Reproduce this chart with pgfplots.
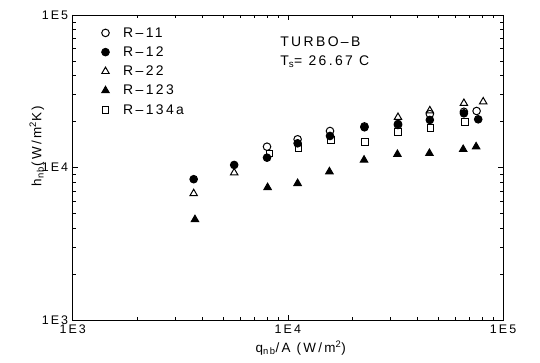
\documentclass[border=0pt]{standalone}
\usepackage{fontspec}
\setmainfont[LetterSpace=17]{Liberation Sans}
\usepackage{pgfplots}
\pgfplotsset{compat=1.18}
\begin{document}
\begin{tikzpicture}
\begin{axis}[
  scale only axis,
  width=430.3bp, height=305bp,
  xmode=log, ymode=log,
  xmin=1000, xmax=100000, ymin=1000, ymax=100000,
  xtick={1000,10000,100000}, xticklabels={1E3,1E4,1E5},
  ytick={1000,10000,100000}, yticklabels={1E3,1E4,1E5},
  tick align=inside, ticks=both,
  xtick pos=both, ytick pos=both,
  axis line style={line width=0.9pt},
  every tick/.style={line width=0.7pt, black},
  major tick length=5bp, minor tick length=3bp,
  tick label style={font=\fontsize{12.5}{14}\selectfont},
  xticklabel style={yshift=-1bp},
  yticklabel style={xshift=-1bp},
  xlabel={q\textsubscript{nb}/A (W/m\textsuperscript{2})},
  ylabel={h\textsubscript{nb}(W/m\textsuperscript{2}K)},
  label style={font=\fontsize{13.5}{15}\selectfont},
  xlabel style={at={(rel axis cs:0.53,0)}, anchor=north, yshift=-17bp},
  ylabel style={at={(rel axis cs:-0.058,0.57)}, anchor=south, rotate=0},
  legend style={draw=none, fill=none, at={(rel axis cs:0.06,0.98)}, anchor=north west,
     font=\fontsize{14}{16}\selectfont, row sep=0pt,
     nodes={inner sep=4.4pt, text height=9.5pt, text depth=1pt}},
  legend cell align=left,
  every axis plot/.append style={only marks, black, mark options={line width=1pt, solid},
     legend image code/.code={\draw[mark repeat=2,mark phase=2,##1,only marks] plot coordinates {(0cm,0cm) (0.3cm,0cm) (0.6cm,0cm)}; \path[draw=none,fill=none] (0.6cm,0cm) -- (0.77cm,0cm);}},
]
\addplot[mark=o, mark size=3.8pt] coordinates {
 (8000,13690) (11100,15310) (15700,17350) (22700,18600) (32500,19000)
 (45700,22400) (65800,23200) (75400,23470)};
\addlegendentry{R--11}
\addplot[mark=*, mark size=3.8pt, fill=black] coordinates {
 (3650,8380) (5630,10390) (8000,11600) (11100,14410) (15700,16100)
 (22700,18350) (32500,19290) (45700,20490) (65800,22660) (76700,20700)};
\addlegendentry{R--12}
\addplot[mark=triangle, mark size=4.3pt] coordinates {
 (3650,6750) (5630,9240) (32500,21350) (45700,23580) (65800,26370) (80900,26990)};
\addlegendentry{R--22}
\addplot[mark=triangle*, mark size=4.3pt, fill=black] coordinates {
 (3700,4560) (8050,7400) (11100,7870) (15600,9390) (22600,11200)
 (32300,12210) (45500,12390) (65300,13160) (75000,13690)};
\addlegendentry{R--123}
\addplot[mark=square, mark size=3.3pt] coordinates {
 (8200,12390) (11200,13400) (15900,15140) (22900,14690) (32600,17100)
 (46000,18200) (66500,19800)};
\addlegendentry{R--134a}
\node[anchor=west, font=\fontsize{14}{16}\selectfont, inner sep=0pt] at (rel axis cs:0.482,0.912) {TURBO--B};
\node[anchor=west, font=\fontsize{14}{16}\selectfont, inner sep=0pt] at (rel axis cs:0.482,0.847) {T\textsubscript{s}= 26.67 C};
\coordinate (o) at (rel axis cs:0,0);
\end{axis}
\pgfresetboundingbox
\path (o) ++(-72.7bp,-43bp) rectangle ++(540bp,363bp);
\end{tikzpicture}
\end{document}
